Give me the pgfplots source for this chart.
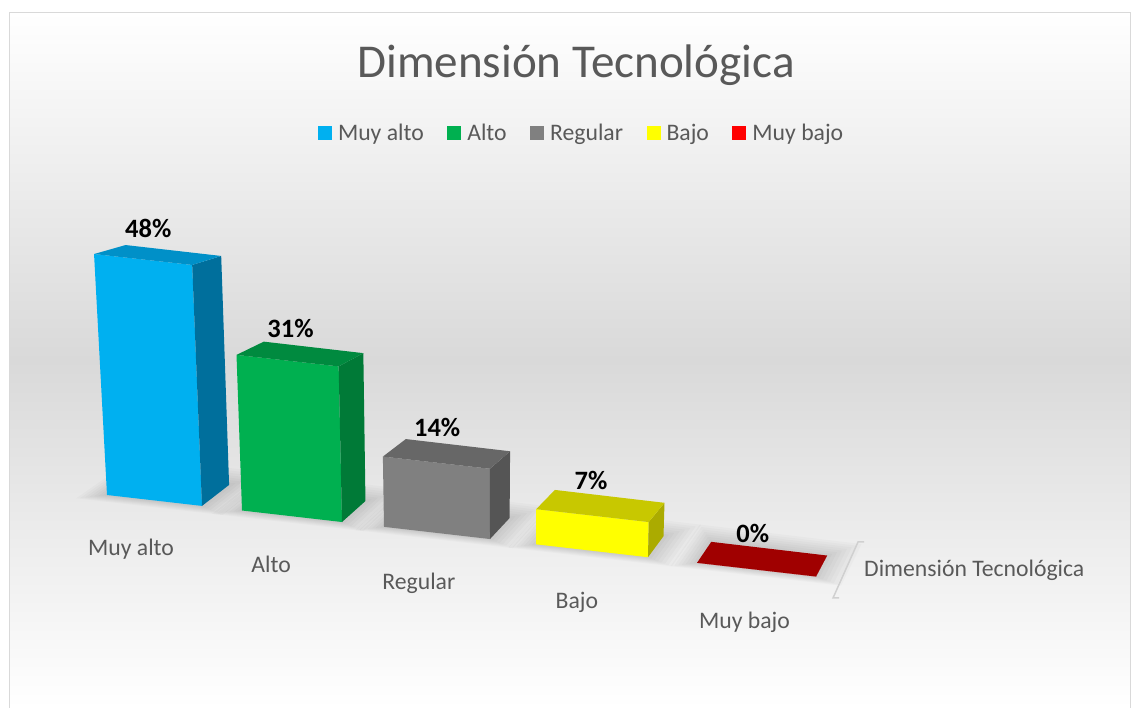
\documentclass[border=0pt]{standalone}
\usepackage{pgfplots}
\usepackage{pgfplotstable}
\pgfplotsset{compat=1.18}
\usepackage{fontspec}
\setmainfont{Carlito}
\definecolor{txt}{HTML}{595959}
\definecolor{bgmid}{HTML}{D9D9D9}
\definecolor{bord}{HTML}{D9D9D9}
\definecolor{c0F}{HTML}{00B0F0}\definecolor{c0S}{HTML}{006F9C}\definecolor{c0T}{HTML}{0090C8}
\definecolor{c1F}{HTML}{00B050}\definecolor{c1S}{HTML}{007A37}\definecolor{c1T}{HTML}{008A3F}
\definecolor{c2F}{HTML}{808080}\definecolor{c2S}{HTML}{555555}\definecolor{c2T}{HTML}{676767}
\definecolor{c3F}{HTML}{FFFF00}\definecolor{c3S}{HTML}{ABAB00}\definecolor{c3T}{HTML}{C8C800}
\definecolor{c4F}{HTML}{FF0000}\definecolor{c4S}{HTML}{A00000}\definecolor{c4T}{HTML}{A00000}
\newcommand\smallfont{\fontsize{23.7}{28}\selectfont}
\newcommand\datafont{\fontsize{26.5}{31}\selectfont\bfseries}

% category, front-left position, front width (layout of the 3-D view), value in %
\pgfplotstableread[col sep=comma]{
cat,x0,w,val
Muy alto,107,95,48
Alto,242,100,31
Regular,384,106,14
Bajo,536,112,7
Muy bajo,697,119,0
}\bardata

% perspective-like projection of (X, depth D, height H in %)
\newcommand\proj[3]{%
  \pgfmathsetmacro\pX{#1}%
  \pgfmathsetmacro\pD{#2}%
  \pgfmathsetmacro\pH{#3}%
  \pgfmathsetmacro\px{\pX+\pD*(18.5-0.026*(\pX-532.5)+0.04*\pH)+\pH*0.00068*(\pX-500)}%
  \pgfmathsetmacro\py{213-0.115*(\pX-107)+\pD*(21-0.25*\pH)+5.02*\pH}%
}

\begin{document}
\begin{tikzpicture}[x=1pt,y=1pt]
\fill[top color=white,bottom color=white,middle color=bgmid] (9,0) rectangle (1131,696);
\draw[bord,line width=1.2pt] (9.6,0) -- (9.6,695.4) -- (1130.4,695.4) -- (1130.4,0);
\begin{axis}[
  at={(0,0)}, anchor=south west,
  width=1131pt, height=708pt, scale only axis,
  xmin=0, xmax=1131, ymin=0, ymax=708,
  hide axis, clip=false,
  legend columns=5,
  legend style={at={(0.28117,0.81215)}, anchor=west, draw=none, fill=none,
    inner sep=0pt, outer sep=0pt, font=\smallfont, text=txt,
    nodes={inner sep=0pt},
    /tikz/every odd column/.append style={column sep=6pt},
    /tikz/every even column/.append style={column sep=23.5pt}},
  legend image code/.code={\fill[#1] (0pt,-7pt) rectangle (14pt,7pt);},
]
% soft floor shadows under the bars
\pgfplotsforeachungrouped \i in {0,...,4}{%
  \pgfplotstablegetelem{\i}{x0}\of\bardata \let\xa\pgfplotsretval
  \pgfplotstablegetelem{\i}{w}\of\bardata \pgfmathsetmacro\xb{\xa+\pgfplotsretval}%
  \pgfplotsforeachungrouped \k in {1,...,7}{%
    \pgfmathsetmacro\sa{\xa-3.2*\k}\pgfmathsetmacro\sb{\xb+4*\k}%
    \pgfmathsetmacro\da{-0.04*\k}\pgfmathsetmacro\db{1+0.1*\k}%
    \proj{\sa}{\da}{0}\edef\sA{(\px,\py)}%
    \proj{\sb}{\da}{0}\edef\sB{(\px,\py)}%
    \proj{\sb}{\db}{0}\edef\sC{(\px,\py)}%
    \proj{\sa}{\db}{0}\edef\sD{(\px,\py)}%
    \edef\cmd{\noexpand\addplot[fill=black,fill opacity=0.02,draw=none,forget plot] coordinates {\sA\sB\sC\sD} -- cycle;}\cmd
  }%
}
\pgfplotsforeachungrouped \i in {0,...,4}{%
  \pgfplotstablegetelem{\i}{x0}\of\bardata \let\xa\pgfplotsretval
  \pgfplotstablegetelem{\i}{w}\of\bardata \pgfmathsetmacro\xb{\xa+\pgfplotsretval}%
  \pgfplotstablegetelem{\i}{val}\of\bardata \let\hv\pgfplotsretval
  \pgfplotstablegetelem{\i}{cat}\of\bardata \let\catname\pgfplotsretval
  \proj{\xa}{0}{0}\edef\vA{(\px,\py)}%
  \proj{\xb}{0}{0}\edef\vB{(\px,\py)}%
  \proj{\xb}{0}{\hv}\edef\vC{(\px,\py)}%
  \proj{\xa}{0}{\hv}\edef\vD{(\px,\py)}%
  \proj{\xb}{1}{0}\edef\vE{(\px,\py)}%
  \proj{\xb}{1}{\hv}\edef\vF{(\px,\py)}%
  \proj{\xa}{1}{\hv}\edef\vG{(\px,\py)}%
  \edef\cmd{%
   \noexpand\addplot[fill=c\i F,draw=none] coordinates {\vA\vB\vC\vD} -- cycle;
   \noexpand\addplot[fill=c\i S,draw=none,forget plot] coordinates {\vB\vE\vF\vC} -- cycle;
   \noexpand\addplot[fill=c\i T,draw=none,forget plot] coordinates {\vD\vC\vF\vG} -- cycle;
  }\cmd
  \pgfmathsetmacro\xm{(\xa+\xb)/2}%
  \proj{\xm}{0.5}{\hv}%
  \pgfmathsetmacro\lx{\px-10}\pgfmathsetmacro\ly{\py+17}%
  \edef\cmd{\noexpand\node[anchor=base,font=\noexpand\datafont,text=black] at (axis cs:\lx,\ly) {\hv\noexpand\%};}\cmd
  \proj{\xm}{0}{0}%
  \pgfmathsetmacro\cx{\px-23.5+0.019*(\xm-154.5)}\pgfmathsetmacro\cy{\py-55-0.006*(\xm-154.5)}%
  \edef\cmd{\noexpand\node[anchor=base,font=\noexpand\smallfont,text=txt] at (axis cs:\cx,\cy) {\catname};}\cmd
}
\legend{Muy alto,Alto,Regular,Bajo,Muy bajo}
\end{axis}
\node[anchor=base,font=\fontsize{47.1}{56}\selectfont,text=txt] at (576,630) {Dimensión Tecnológica};
\node[anchor=base west,font=\smallfont,text=txt,inner sep=0pt] at (864,131) {Dimensión Tecnológica};
\draw[color=bord!90!gray,line width=1.5pt] (864,166) -- (858,166) -- (833,110) -- (839,110);
\pgfresetboundingbox
\useasboundingbox (0,0) rectangle (1131,708);
\end{tikzpicture}
\end{document}
